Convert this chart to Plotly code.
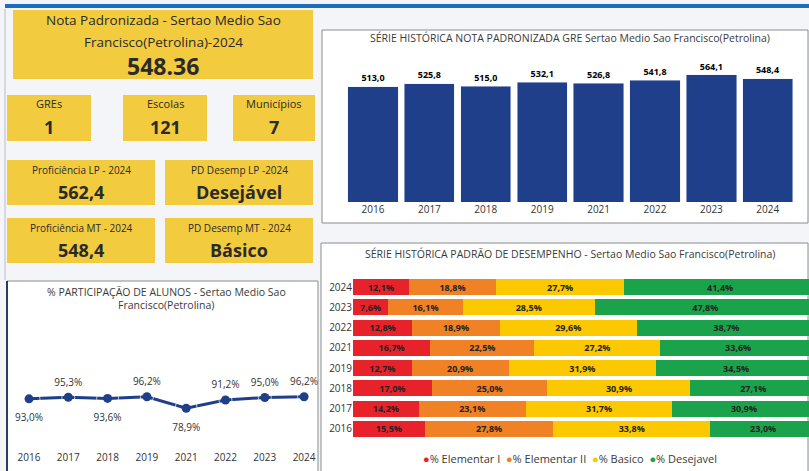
import plotly.graph_objects as go

anos = ['2016', '2017', '2018', '2019', '2021', '2022', '2023', '2024']
nota_padronizada = [513.0, 525.8, 515.0, 532.1, 526.8, 541.8, 564.1, 548.4]
participacao = [93.0, 95.3, 93.6, 96.2, 78.9, 91.2, 95.0, 96.2]
elementar_1 = [15.5, 14.2, 17.0, 12.7, 16.7, 12.8, 7.6, 12.1]
elementar_2 = [27.8, 23.1, 25.0, 20.9, 22.5, 18.9, 16.1, 18.8]
basico = [33.8, 31.7, 30.9, 31.9, 27.2, 29.6, 28.5, 27.7]
desejavel = [23.0, 30.9, 27.1, 34.5, 33.6, 38.7, 47.8, 41.4]

niveis = ['% Elementar I', '% Elementar II', '% Basico', '% Desejavel']
cores_niveis = ['#E8222A', '#F08124', '#FCC800', '#1BA34B']

cartao_titulo = ['Nota Padronizada - Sertao Medio Sao', 'Francisco(Petrolina)-2024']
cartao_valor = '548.36'
contagem_rotulos = ['GREs', 'Escolas', 'Municípios']
contagem_valores = ['1', '121', '7']
prof_rotulos = ['Proficiência LP - 2024', 'PD Desemp LP -2024',
                'Proficiência MT - 2024', 'PD Desemp MT - 2024']
prof_valores = ['562,4', 'Desejável', '548,4', 'Básico']

titulo_barras = 'SÉRIE HISTÓRICA NOTA PADRONIZADA GRE Sertao Medio Sao Francisco(Petrolina)'
titulo_pd = 'SÉRIE HISTÓRICA PADRÃO DE DESEMPENHO - Sertao Medio Sao Francisco(Petrolina)'
titulo_part = ['% PARTICIPAÇÃO DE ALUNOS - Sertao Medio Sao', 'Francisco(Petrolina)']

W, H = 809, 471
FONT = 'Segoe UI, Open Sans, sans-serif'
AZUL = '#1F3F8A'
AMARELO = '#F2CC3E'
TXT = '#2A2A2A'


def px(x):
    return x / W


def py(y):
    return 1 - y / H


shapes = []
annotations = []


def rect(x0, y0, x1, y1, fill, line=None, lw=1):
    shapes.append(dict(type='rect', xref='paper', yref='paper',
                       x0=px(x0), x1=px(x1), y0=py(y1), y1=py(y0),
                       fillcolor=fill, line=dict(color=line or fill, width=lw if line else 0),
                       layer='below'))


def texto(x, y, s, size, bold=False, color=TXT):
    annotations.append(dict(xref='paper', yref='paper', x=px(x), y=py(y), text=s,
                            showarrow=False, xanchor='center', yanchor='middle',
                            font=dict(family=FONT, size=size, color=color,
                                      weight='bold' if bold else 'normal')))


# faixa superior
rect(5, 4, 809, 8, '#1C6DBF')

# cartões
rect(13, 10, 313, 79, AMARELO)
texto(163, 20, cartao_titulo[0], 13.5)
texto(163, 42, cartao_titulo[1], 13.5)
texto(163, 66, cartao_valor, 23, bold=True)

for (x0, x1), rot, val in zip([(7, 91), (123, 207), (233, 315)], contagem_rotulos, contagem_valores):
    rect(x0, 95, x1, 141, AMARELO)
    texto((x0 + x1) / 2, 104, rot, 11)
    texto((x0 + x1) / 2, 127, val, 18, bold=True)

caixas = [(7, 160, 155, 205), (165, 160, 313, 205), (7, 218, 155, 263), (165, 218, 313, 263)]
for (x0, y0, x1, y1), rot, val in zip(caixas, prof_rotulos, prof_valores):
    rect(x0, y0, x1, y1, AMARELO)
    texto((x0 + x1) / 2, y0 + 10, rot, 10)
    texto((x0 + x1) / 2, y0 + 32, val, 18, bold=True)

# painéis brancos
rect(322, 30, 808, 223, 'white', '#8C8C8C')
rect(321, 243, 808, 472, 'white', '#8C8C8C')
rect(7, 281, 318, 472, 'white', '#8C8C8C')
shapes.append(dict(type='line', xref='paper', yref='paper', x0=px(7), x1=px(7),
                   y0=py(281), y1=py(471), line=dict(color='#2B3A67', width=2)))
shapes.append(dict(type='line', xref='paper', yref='paper', x0=px(5), x1=px(5),
                   y0=py(9), y1=py(280), line=dict(color='#B8BEC6', width=1)))

texto(570, 38, titulo_barras, 10.5, color='#3A3A3A')
texto(570, 254, titulo_pd, 10.5, color='#3A3A3A')
texto(166, 292, titulo_part[0], 10.5, color='#3A3A3A')
texto(166, 305, titulo_part[1], 10.5, color='#3A3A3A')

# legenda feita com texto
leg = '  '.join(f'<span style="color:{c}">●</span>{n}' for n, c in zip(niveis, cores_niveis))
texto(570, 458, leg, 11, color='#3A3A3A')

fig = go.Figure()

fig.add_trace(go.Bar(
    x=anos, y=nota_padronizada, xaxis='x', yaxis='y',
    marker=dict(color=AZUL), width=0.89,
    texttemplate='%{y:.1f}', textposition='outside', cliponaxis=False,
    textfont=dict(family=FONT, size=11, color='black', weight='bold'),
    showlegend=False, hoverinfo='x+y'
))

fig.add_trace(go.Scatter(
    x=anos, y=participacao, xaxis='x2', yaxis='y2',
    mode='lines+markers',
    line=dict(color=AZUL, width=3), marker=dict(color=AZUL, size=9),
    cliponaxis=False, showlegend=False
))

# rótulos da linha (marcador invisível só para afastar o texto)
posicoes = ['bottom center', 'top center', 'bottom center', 'top center',
            'bottom center', 'top center', 'top center', 'top center']
fig.add_trace(go.Scatter(
    x=anos, y=participacao, xaxis='x2', yaxis='y2',
    mode='markers+text',
    marker=dict(color='rgba(0,0,0,0)', size=[22 if p.startswith('bottom') else 13 for p in posicoes]),
    texttemplate='%{y:.1f}%', textposition=posicoes,
    textfont=dict(family=FONT, size=10, color='#333'),
    cliponaxis=False, showlegend=False, hoverinfo='skip'
))

for nome, vals, cor in zip(niveis, [elementar_1, elementar_2, basico, desejavel], cores_niveis):
    fig.add_trace(go.Bar(
        x=vals, y=anos, orientation='h', xaxis='x3', yaxis='y3',
        name=nome, marker=dict(color=cor, line=dict(width=0)), width=0.79,
        texttemplate='%{x:.1f}%', textposition='inside', insidetextanchor='middle',
        textangle=0, constraintext='none',
        textfont=dict(family=FONT, size=9, color='#222', weight='bold'),
        showlegend=False
    ))

fig.update_layout(
    width=W, height=H,
    margin=dict(l=0, r=0, t=0, b=0),
    paper_bgcolor='#F3F5F8', plot_bgcolor='rgba(0,0,0,0)',
    separators=',.',
    barmode='stack',
    uniformtext=dict(minsize=9, mode='show'),
    font=dict(family=FONT, size=10, color='#333'),
    shapes=shapes, annotations=annotations,
    xaxis=dict(domain=[px(344.8), px(796)], anchor='y', type='category', range=[-0.5, 7.5],
               showgrid=False, showline=False, ticks='', tickfont=dict(size=10, color='#333')),
    yaxis=dict(domain=[py(202), py(60)], anchor='x', range=[0, 630.7], visible=False),
    xaxis2=dict(domain=[px(13.3), px(319.8)], anchor='y2', type='category', range=[-0.4, 7.4],
                showgrid=False, showline=False, ticks='', tickfont=dict(size=10, color='#333')),
    yaxis2=dict(domain=[py(450), py(330)], anchor='x2', range=[16.6, 195.8], visible=False),
    xaxis3=dict(domain=[px(353), 1], anchor='y3', range=[0, 98.5], visible=False),
    yaxis3=dict(domain=[py(439.1), py(276.9)], anchor='x3', type='category',
                showgrid=False, showline=False, ticks='', tickfont=dict(size=10, color='#333')),
)

# a página padrão tem margem de 8px no body; zera para caber na janela
fig.write_html('out.html', config={'displayModeBar': False},
               post_script="document.body.style.margin='0';document.body.style.overflow='hidden';")
